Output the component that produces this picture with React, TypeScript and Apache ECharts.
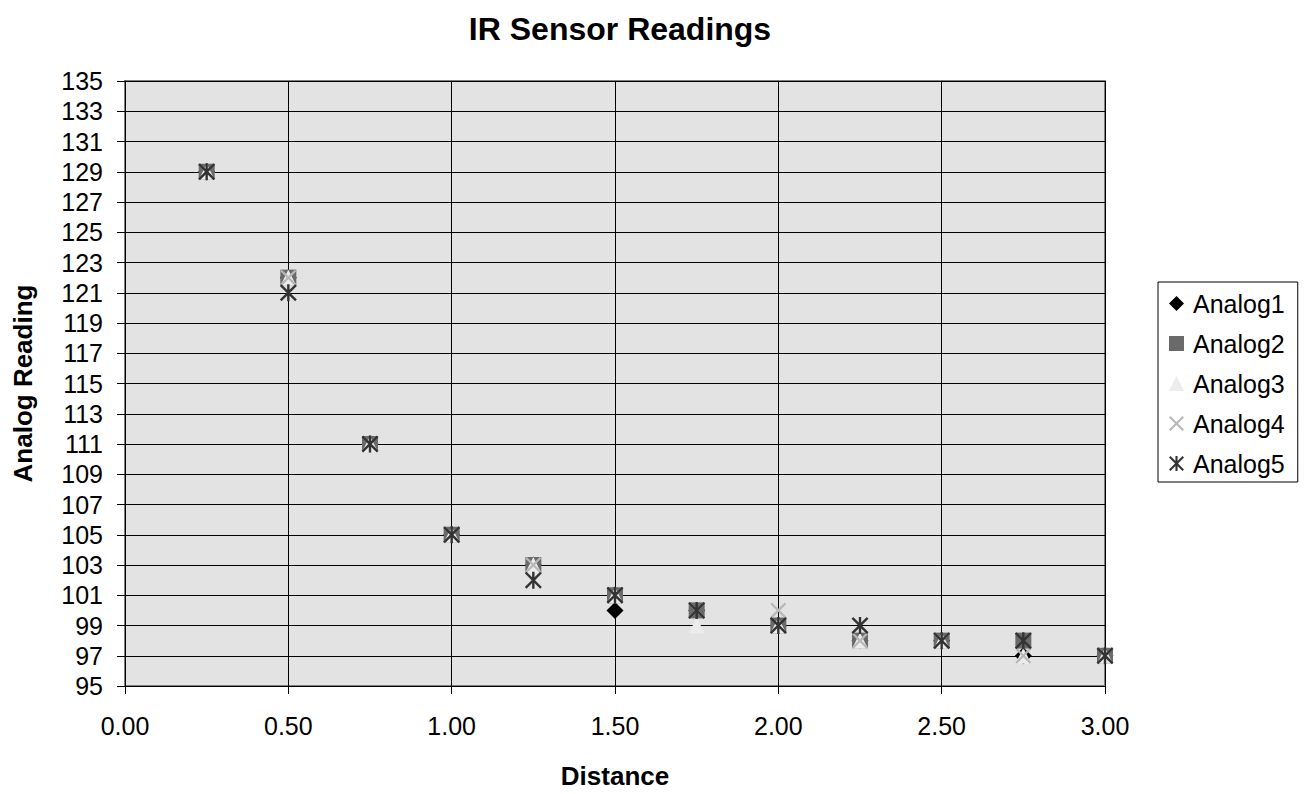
import React, { useEffect, useRef } from "react";
import * as echarts from "echarts";

const distances = [0.25, 0.5, 0.75, 1.0, 1.25, 1.5, 1.75, 2.0, 2.25, 2.5, 2.75, 3.0];
const analog1 = [129, 122, 111, 105, 103, 100, 100, 99, 98, 98, 97, 97];
const analog2 = [129, 122, 111, 105, 103, 101, 100, 99, 98, 98, 98, 97];
const analog3 = [129, 122, 111, 105, 103, 101, 99, 99, 98, 98, 97, 97];
const analog4 = [129, 122, 111, 105, 103, 101, 100, 100, 98, 98, 97, 97];
const analog5 = [129, 121, 111, 105, 102, 101, 100, 99, 99, 98, 98, 97];

const seriesNames = ["Analog1", "Analog2", "Analog3", "Analog4", "Analog5"];
const seriesValues = [analog1, analog2, analog3, analog4, analog5];

const FONT = "'Liberation Sans', Arial, sans-serif";

const X_PATH =
  "path://M0,1L1,0L5,4L9,0L10,1L6,5L10,9L9,10L5,6L1,10L0,9L4,5Z";
const STAR_PATH =
  "path://M0,1L1,0L5,4L9,0L10,1L6,5L10,9L9,10L5,6L1,10L0,9L4,5ZM4.3,0L5.7,0L5.7,10L4.3,10Z";

const symbols = ["diamond", "rect", "triangle", X_PATH, STAR_PATH];
const colors = ["#000000", "#6a6a6a", "#ececec", "#b8b8b8", "#333333"];
const sizes = [17, 16, 16, 16, 17];

export default function App() {
  const ref = useRef<HTMLDivElement>(null);
  useEffect(() => {
    if (!ref.current) return;
    const chart = echarts.init(ref.current, undefined, { renderer: "svg" });
    chart.setOption({
      animation: false,
      backgroundColor: "#ffffff",
      textStyle: { fontFamily: FONT },
      title: {
        text: "IR Sensor Readings",
        left: 615,
        textAlign: "center",
        top: 8,
        textStyle: { fontFamily: FONT, fontSize: 32, fontWeight: "bold", color: "#000" },
      },
      legend: {
        orient: "vertical",
        left: 1158,
        top: 282,
        padding: [9, 13, 6, 11],
        borderColor: "#000",
        borderWidth: 1,
        itemWidth: 15,
        itemHeight: 15,
        itemGap: 15,
        data: seriesNames,
        textStyle: {
          fontFamily: FONT,
          fontSize: 25,
          color: "#000",
          lineHeight: 25,
          padding: [0, 0, 0, 4],
        },
      },
      grid: {
        left: 125,
        right: 202,
        top: 81,
        bottom: 103,
        show: true,
        backgroundColor: "#e3e3e3",
        borderColor: "#808080",
        borderWidth: 2,
      },
      xAxis: {
        type: "value",
        min: 0,
        max: 3,
        interval: 0.5,
        name: "Distance",
        nameLocation: "middle",
        nameGap: 77,
        nameTextStyle: { fontFamily: FONT, fontSize: 26, fontWeight: "bold", color: "#000" },
        axisLine: { show: true, onZero: false, lineStyle: { color: "#000", width: 1 } },
        axisTick: { show: true, inside: false, length: 8, lineStyle: { color: "#000" } },
        axisLabel: {
          margin: 27,
          fontFamily: FONT,
          fontSize: 25,
          color: "#000",
          formatter: (v: number) => v.toFixed(2),
        },
        splitLine: { show: true, lineStyle: { color: "#000", width: 1 } },
      },
      yAxis: {
        type: "value",
        min: 95,
        max: 135,
        interval: 2,
        name: "Analog Reading",
        nameLocation: "middle",
        nameRotate: 90,
        nameGap: 89,
        nameTextStyle: { fontFamily: FONT, fontSize: 26, fontWeight: "bold", color: "#000" },
        axisLine: { show: true, onZero: false, lineStyle: { color: "#000", width: 1 } },
        axisTick: { show: true, inside: false, length: 8, lineStyle: { color: "#000" } },
        axisLabel: { margin: 22, fontFamily: FONT, fontSize: 25, color: "#000" },
        splitLine: { show: true, lineStyle: { color: "#000", width: 1 } },
      },
      series: seriesNames.map((name, i) => ({
        name,
        type: "scatter",
        symbol: symbols[i],
        symbolSize: sizes[i],
        itemStyle: { color: colors[i], opacity: 1 },
        data: distances.map((d, j) => [d, seriesValues[i][j]]),
      })),
    });
    return () => chart.dispose();
  }, []);
  return (
    <div
      ref={ref}
      style={{ position: "absolute", left: 0, top: 0, width: 1307, height: 794 }}
    />
  );
}
